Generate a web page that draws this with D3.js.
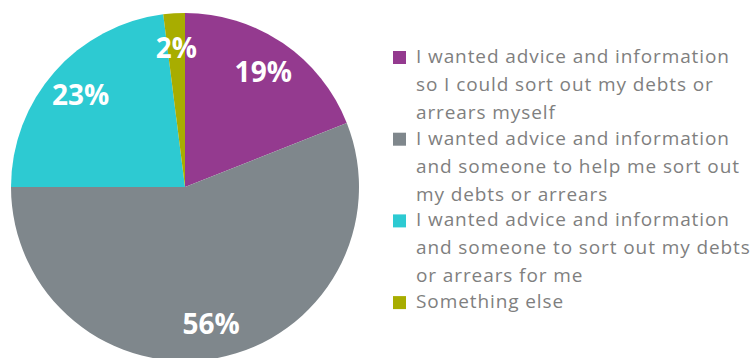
<!DOCTYPE html>
<html>
<head>
<meta charset="utf-8">
<script src="https://cdn.jsdelivr.net/npm/d3@7/dist/d3.min.js"></script>
<style>
  html, body { margin: 0; padding: 0; background: #ffffff; }
  svg { display: block; }
</style>
</head>
<body>
<svg id="chart" width="756" height="358"></svg>
<script>
// Reasons for seeking help, share of respondents (%)
const categories = [
  "I wanted advice and information\nso I could sort out my debts or\narrears myself",
  "I wanted advice and information\nand someone to help me sort out\nmy debts or arrears",
  "I wanted advice and information\nand someone to sort out my debts\nor arrears for me",
  "Something else"
];
const values = [19, 56, 23, 2];
const colors = ["#943a8f", "#7f878c", "#2dcad2", "#a8ad00"];

const width = 756, height = 358;
const cx = 185, cy = 187, radius = 174;

const svg = d3.select("#chart");

const pie = d3.pie().sort(null).value(d => d.value);
const data = categories.map((c, i) => ({ category: c, value: values[i], color: colors[i] }));
const arcs = pie(data);

const arc = d3.arc().innerRadius(0).outerRadius(radius);
const labelArc = d3.arc().innerRadius(radius * 0.8).outerRadius(radius * 0.8);

const g = svg.append("g").attr("transform", `translate(${cx},${cy})`);

g.selectAll("path.slice")
  .data(arcs)
  .join("path")
  .attr("class", "slice")
  .attr("d", arc)
  .attr("fill", d => d.data.color);

g.selectAll("text.pct")
  .data(arcs)
  .join("text")
  .attr("class", "pct")
  .attr("transform", d => `translate(${labelArc.centroid(d)})`)
  .attr("text-anchor", "middle")
  .attr("dy", "0.36em")
  .attr("fill", "#ffffff")
  .style("font-family", "'Open Sans', sans-serif")
  .style("font-weight", "700")
  .style("font-size", "28px")
  .text(d => `${d.data.value}%`);

// Legend
const legendX = 393, legendTop = 63, lineHeight = 28, entryStep = 81.7, box = 13;
const legend = svg.append("g").attr("class", "legend");

const entries = legend.selectAll("g.entry")
  .data(data)
  .join("g")
  .attr("class", "entry")
  .attr("transform", (d, i) => `translate(${legendX},${legendTop + i * entryStep})`);

entries.append("rect")
  .attr("x", 0)
  .attr("y", -12)
  .attr("width", box)
  .attr("height", box)
  .attr("fill", d => d.color);

entries.each(function(d) {
  const t = d3.select(this).append("text")
    .attr("x", 23)
    .attr("y", 0)
    .attr("fill", "#7f7f7f")
    .style("font-family", "'Open Sans', sans-serif")
    .style("font-size", "19px")
    .style("letter-spacing", "0.9px");
  d.category.split("\n").forEach((line, j) => {
    t.append("tspan").attr("x", 23).attr("y", j * lineHeight).text(line);
  });
});
</script>
</body>
</html>
